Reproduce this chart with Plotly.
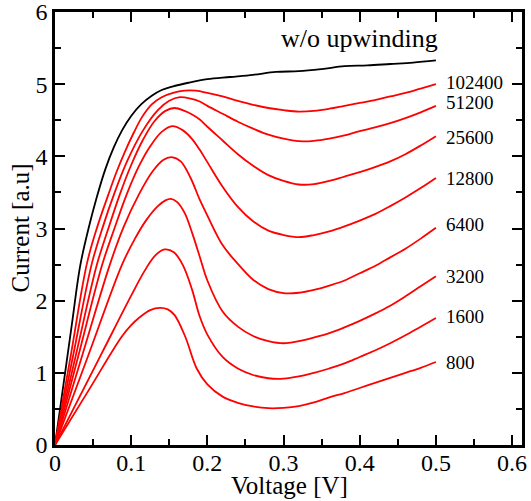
import plotly.graph_objects as go

# ---- data ----
x_wo = [0, 0.011, 0.022, 0.033, 0.044, 0.055, 0.066, 0.077, 0.088, 0.10, 0.113, 0.127, 0.14, 0.155, 0.175, 0.2, 0.23, 0.26, 0.29, 0.32, 0.35, 0.38, 0.41, 0.44, 0.47, 0.5]
y_wo = [0, 0.83, 1.66, 2.48, 3.00, 3.44, 3.82, 4.12, 4.36, 4.56, 4.72, 4.84, 4.92, 4.97, 5.02, 5.07, 5.10, 5.13, 5.17, 5.18, 5.21, 5.25, 5.26, 5.28, 5.30, 5.33]

x_102400 = [0, 0.021, 0.042, 0.056, 0.070, 0.081, 0.092, 0.103, 0.114, 0.127, 0.14, 0.155, 0.17, 0.185,
            0.20, 0.22, 0.24, 0.26, 0.28, 0.30, 0.32, 0.34, 0.36, 0.38, 0.40, 0.42, 0.44, 0.46, 0.48, 0.50]
y_102400 = [0, 1.26, 2.52, 3.04, 3.47, 3.79, 4.07, 4.32, 4.54, 4.72, 4.82, 4.88, 4.91, 4.91,
            4.88, 4.83, 4.77, 4.715, 4.67, 4.64, 4.62, 4.63, 4.66, 4.70, 4.74, 4.78, 4.83, 4.88, 4.94, 5.0]

x_51200 = [0, 0.024, 0.048, 0.063, 0.078, 0.095, 0.115, 0.135, 0.15, 0.164, 0.178, 0.19,
           0.20, 0.22, 0.24, 0.26, 0.28, 0.30, 0.32, 0.34, 0.36, 0.38, 0.40, 0.42, 0.44, 0.46, 0.48, 0.50]
y_51200 = [0, 1.25, 2.50, 3.03, 3.49, 3.94, 4.35, 4.64, 4.77, 4.82, 4.80, 4.76,
           4.70, 4.59, 4.48, 4.385, 4.30, 4.245, 4.21, 4.215, 4.245, 4.29, 4.35, 4.40, 4.46, 4.53, 4.61, 4.70]

x_25600 = [0, 0.0275, 0.055, 0.07, 0.085, 0.10, 0.115, 0.13, 0.145, 0.157, 0.17, 0.18, 0.19,
           0.20, 0.22, 0.24, 0.26, 0.28, 0.30, 0.32, 0.34, 0.36, 0.38, 0.40, 0.42, 0.44, 0.46, 0.48, 0.50]
y_25600 = [0, 1.25, 2.50, 3.00, 3.47, 3.88, 4.22, 4.48, 4.63, 4.67, 4.63, 4.58, 4.51,
           4.41, 4.22, 4.03, 3.87, 3.74, 3.66, 3.61, 3.615, 3.66, 3.72, 3.78, 3.85, 3.93, 4.03, 4.15, 4.28]

x_12800 = [0, 0.031, 0.062, 0.078, 0.094, 0.11, 0.125, 0.14, 0.154, 0.168, 0.18, 0.19,
           0.20, 0.22, 0.24, 0.26, 0.28, 0.30, 0.32, 0.34, 0.36, 0.38, 0.40, 0.42, 0.44, 0.46, 0.48, 0.50]
y_12800 = [0, 1.25, 2.50, 3.00, 3.47, 3.86, 4.14, 4.34, 4.42, 4.36, 4.24, 4.09,
           3.92, 3.58, 3.30, 3.10, 2.97, 2.91, 2.88, 2.91, 2.96, 3.03, 3.11, 3.20, 3.31, 3.43, 3.56, 3.70]

x_6400 = [0, 0.036, 0.072, 0.09, 0.11, 0.128, 0.142, 0.153, 0.165, 0.178, 0.19,
          0.20, 0.22, 0.24, 0.26, 0.28, 0.30, 0.32, 0.34, 0.36, 0.38, 0.40, 0.42, 0.44, 0.46, 0.48, 0.50]
y_6400 = [0, 1.25, 2.50, 3.02, 3.47, 3.79, 3.95, 3.99, 3.93, 3.70, 3.40,
          3.18, 2.77, 2.51, 2.29, 2.16, 2.105, 2.11, 2.15, 2.21, 2.28, 2.38, 2.48, 2.60, 2.72, 2.86, 3.01]

x_3200 = [0, 0.044, 0.088, 0.105, 0.12, 0.135, 0.145, 0.152, 0.16, 0.17, 0.18, 0.19,
          0.20, 0.22, 0.24, 0.26, 0.28, 0.30, 0.32, 0.34, 0.36, 0.38, 0.40, 0.42, 0.44, 0.46, 0.48, 0.50]
y_3200 = [0, 1.25, 2.50, 2.86, 3.12, 3.31, 3.39, 3.41, 3.37, 3.22, 2.94, 2.61,
          2.28, 1.85, 1.64, 1.51, 1.44, 1.41, 1.44, 1.49, 1.55, 1.63, 1.72, 1.82, 1.93, 2.06, 2.20, 2.34]

x_1600 = [0, 0.0613, 0.10, 0.118, 0.132, 0.144, 0.156, 0.168, 0.18, 0.19,
          0.20, 0.22, 0.24, 0.26, 0.28, 0.30, 0.32, 0.34, 0.36, 0.38, 0.40, 0.42, 0.44, 0.46, 0.48, 0.50]
y_1600 = [0, 1.27, 2.07, 2.42, 2.63, 2.71, 2.67, 2.49, 2.15, 1.78,
          1.53, 1.22, 1.06, 0.97, 0.925, 0.92, 0.95, 1.00, 1.06, 1.13, 1.22, 1.31, 1.41, 1.52, 1.64, 1.76]

x_800 = [0, 0.0437, 0.0875, 0.10, 0.11, 0.125, 0.138, 0.148, 0.157, 0.171, 0.186,
         0.20, 0.22, 0.24, 0.26, 0.28, 0.30, 0.32, 0.34, 0.36, 0.38, 0.40, 0.42, 0.44, 0.46, 0.48, 0.50]
y_800 = [0, 0.75, 1.50, 1.66, 1.76, 1.87, 1.90, 1.88, 1.80, 1.50, 1.06,
         0.84, 0.67, 0.585, 0.535, 0.51, 0.515, 0.54, 0.59, 0.66, 0.72, 0.79, 0.86, 0.93, 1.00, 1.07, 1.15]

red_series = [
    ("102400", x_102400, y_102400, 5.03),
    ("51200", x_51200, y_51200, 4.75),
    ("25600", x_25600, y_25600, 4.26),
    ("12800", x_12800, y_12800, 3.69),
    ("6400", x_6400, y_6400, 3.05),
    ("3200", x_3200, y_3200, 2.34),
    ("1600", x_1600, y_1600, 1.78),
    ("800", x_800, y_800, 1.14),
]

x_ticks = [0, 0.1, 0.2, 0.3, 0.4, 0.5, 0.6]
x_tick_text = ["0", "0.1", "0.2", "0.3", "0.4", "0.5", "0.6"]
y_ticks = [0, 1, 2, 3, 4, 5, 6]
y_tick_text = ["0", "1", "2", "3", "4", "5", "6"]

FONT = "Liberation Serif"
W, H = 531, 501
L, R, T, B = 55, 9, 12, 56

fig = go.Figure()
fig.add_trace(go.Scatter(x=x_wo, y=y_wo, mode="lines",
                         line=dict(color="black", width=1.8, shape="spline", smoothing=1.0),
                         showlegend=False, hoverinfo="skip"))
for name, xs, ys, ly in red_series:
    fig.add_trace(go.Scatter(x=xs, y=ys, mode="lines",
                             line=dict(color="#ff0000", width=1.8, shape="spline", smoothing=1.0),
                             showlegend=False, name=name))
    fig.add_annotation(x=0.511, y=ly, text=name, showarrow=False, xanchor="left",
                       yanchor="middle", font=dict(family=FONT, size=19, color="black"))

fig.add_annotation(x=0.505, y=5.63, text="w/o upwinding", showarrow=False, xanchor="right",
                   yanchor="middle", font=dict(family=FONT, size=26, color="black"))

# axis titles as paper annotations for exact placement
pw, ph = W - L - R, H - T - B
fig.add_annotation(xref="paper", yref="paper", x=(289 - L) / pw, y=-(485 - (H - B)) / ph,
                   text="Voltage [V]", showarrow=False, xanchor="center", yanchor="middle",
                   font=dict(family=FONT, size=25, color="black"))
fig.add_annotation(xref="paper", yref="paper", x=(20 - L) / pw, y=0.5, textangle=-90,
                   text="Current [a.u]", showarrow=False, xanchor="center", yanchor="middle",
                   font=dict(family=FONT, size=25, color="black"))

axis_common = dict(
    showline=True, linecolor="black", linewidth=2.5, mirror="allticks",
    ticks="inside", ticklen=10, tickwidth=2, tickcolor="black",
    showgrid=False, zeroline=False, automargin=False, ticklabeloverflow="allow",
    tickfont=dict(family=FONT, size=24, color="black"),
)

fig.update_xaxes(range=[0, 0.613], tickvals=x_ticks, ticktext=x_tick_text, ticklabelstandoff=-6,
                 minor=dict(dtick=0.05, tick0=0, ticks="inside", ticklen=6, tickwidth=2, tickcolor="black"),
                 **axis_common)
fig.update_yaxes(range=[0, 6.0005], tickvals=y_ticks, ticktext=y_tick_text,
                 minor=dict(dtick=0.5, tick0=0, ticks="inside", ticklen=6, tickwidth=2, tickcolor="black"),
                 **axis_common)

fig.update_layout(width=W, height=H, margin=dict(l=L, r=R, t=T, b=B),
                  plot_bgcolor="white", paper_bgcolor="white", showlegend=False)

fig.write_html("out.html", config={"displayModeBar": False},
               post_script="document.body.style.margin='0';")
